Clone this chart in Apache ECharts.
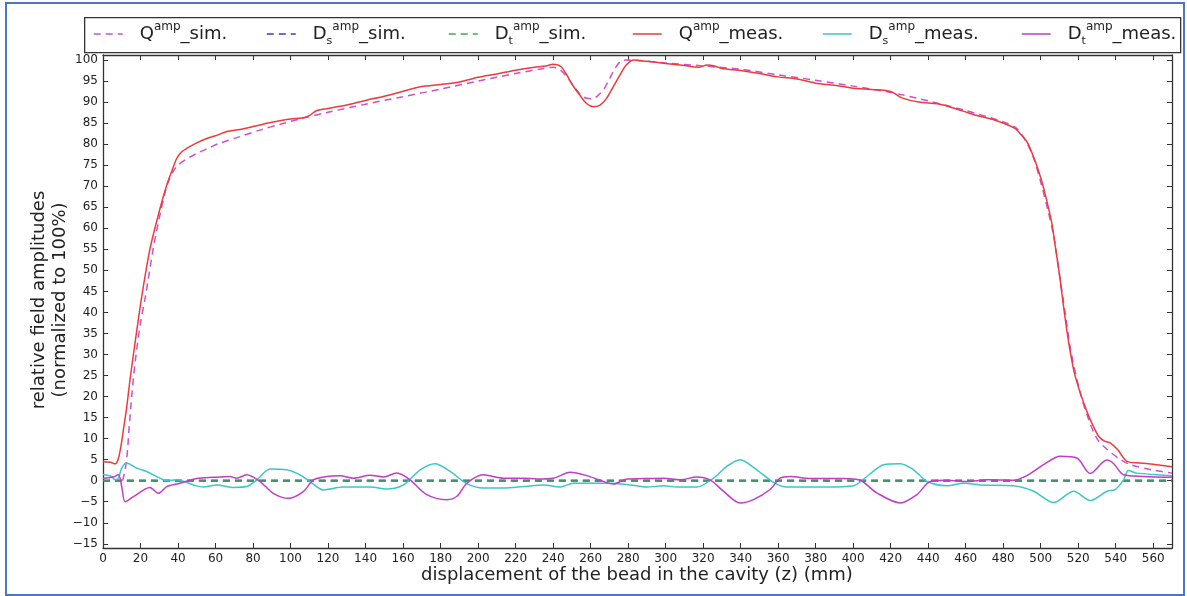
<!DOCTYPE html>
<html>
<head>
<meta charset="utf-8">
<script src="https://cdn.jsdelivr.net/npm/echarts@6/dist/echarts.min.js"></script>
<style>
  html, body { margin: 0; padding: 0; background: #fff; }
  #frame { position: absolute; left: 5px; top: 2px; width: 1176px; height: 590px; border: 2px solid #4a76c6; }
  #chart { position: absolute; left: 0; top: 0; width: 1187px; height: 596px; }
</style>
</head>
<body>
<div id="frame"></div>
<div id="chart"></div>
<script>
// Bead-pull field profiles along the cavity: simulated vs measured amplitudes.
const zTicks = [0, 20, 40, 60, 80, 100, 120, 140, 160, 180, 200, 220, 240, 260, 280,
  300, 320, 340, 360, 380, 400, 420, 440, 460, 480, 500, 520, 540, 560];
const vTicks = [-15, -10, -5, 0, 5, 10, 15, 20, 25, 30, 35, 40, 45, 50, 55, 60, 65,
  70, 75, 80, 85, 90, 95, 100];

// simulated quadrupole amplitude [z (mm), % of max]
const qSim = [[10.5,0],[12.5,4.5],[14,13],[15.5,21],[17.5,29.5],[20,37.5],[22.7,44],
  [26.8,55.2],[30.5,63.5],[34,70],[37,73.2],[40,75],[44,76.3],[50,77.8],[57,79.2],
  [62,80.2],[73,81.8],[84,83.4],[95,84.8],[105,86],[120,87.6],[140,89.5],[160,91.3],
  [180,93.1],[200,95],[220,96.8],[235,98],[240,98.3],[244,97.6],[248,95.6],[252,93.2],
  [255,91.6],[258,90.9],[261,90.8],[264,91.6],[267,93],[270,95.5],[273,98],[276,99.7],
  [279,100],[285,99.9],[300,99.3],[320,98.6],[340,97.8],[360,96.5],[380,95.2],[400,93.8],
  [420,92.3],[440,90.3],[460,88],[480,85.3],[487,83.8],[492,80.8],[496,77],[500,71],
  [504,64],[507,58],[510,49],[513,40],[516,31],[521,21],[526,14],[530,10],
  [535,7.6],[542,5.2],[548,3.8],[559,2.6],[570,1.8]];

// simulated dipole amplitudes (both zero along the cavity)
const dsSim = [[0,0],[570,0]];
const dtSim = [[0,0],[570,0]];

// measured quadrupole amplitude
const qMeas = [[0,4.5],[4,4.4],[6.5,4.0],[8,5],[9.5,8],[11,12.5],[12.5,17],[14.4,24],
  [17,32.5],[20.6,43.6],[25,55],[30.4,64.7],[34,70.3],[37,74],[39.3,76.6],[42,78.2],
  [44.6,79],[50,80.3],[55,81.3],[60,82],[66,83],[73,83.5],[80,84.2],[90,85.2],[100,86],
  [106,86.2],[110,86.8],[114,88],[120,88.5],[130,89.3],[140,90.4],[150,91.4],[160,92.6],
  [170,93.7],[180,94.2],[190,94.8],[200,95.9],[210,96.7],[220,97.6],[230,98.3],[236,98.6],
  [240,99],[244,98.5],[247,96.7],[250,94.3],[254,91.8],[258,89.6],[261.5,88.9],[265,89.3],
  [268.5,90.9],[272,93.6],[275.7,96.5],[279,98.8],[283,100],[290,99.7],[300,99.2],
  [310,98.7],[318,98.3],[322,98.8],[326,98.6],[330,98],[340,97.5],[350,96.8],[360,96],
  [370,95.5],[380,94.5],[390,94],[400,93.3],[410,93],[420,92.5],[426,91],[435,90],
  [445,89.6],[452,88.8],[459,87.8],[466,86.8],[475,85.8],[486,83.8],[490,82],[493,80.3],
  [497,76],[500,72],[503,67],[506,61],[508,55],[510,49],[512,42],[514,35.5],[516,30],
  [518,25.5],[521,21],[525,16],[528,13],[531,10.5],[534,9.4],[537,9.0],[541,7.4],
  [546,4.6],[553,4.2],[560,3.9],[570,3.3]];

// measured dipole amplitude, s-component
const dsMeas = [[0,1.45],[4.6,1.0],[6.4,0.2],[8.2,0.6],[10,3.0],[12.6,4.2],[18,3.0],
  [23.3,2.2],[30.4,0.6],[34,0],[39.3,0.2],[48.2,-1.0],[53.5,-1.5],[60.6,-1.0],[69.5,-1.6],
  [76.6,-1.4],[82,0.2],[89.1,2.8],[98,2.6],[105,1.4],[110.4,-0.2],[117.5,-2.2],[128,-1.5],
  [137,-1.5],[142.4,-1.5],[151.3,-2.0],[160.2,-1.0],[169.1,2.6],[177.1,4.05],[185.1,2.2],
  [194,-0.7],[202.8,-1.75],[213.5,-1.75],[224.2,-1.4],[234.8,-1.0],[243.7,-1.5],
  [250.8,-0.6],[259.7,-0.6],[270.4,-0.6],[281.1,-1.0],[290,-1.5],[298.9,-1.2],[306,-1.5],
  [316.6,-1.5],[325.5,0.6],[332.6,3.4],[339.7,5.0],[348.6,2.6],[357.5,-0.4],[364.6,-1.5],
  [377,-1.5],[386,-1.5],[400.2,-1.2],[407.3,1.0],[416.2,3.8],[425.1,4.05],[432.2,2.6],
  [439.4,-0.2],[450,-1.2],[458.9,-0.6],[467.7,-1.0],[485.5,-1.2],[496.2,-2.5],[506.9,-5.2],
  [517.6,-2.5],[526.4,-4.7],[535.3,-2.5],[539.7,-2.1],[544.2,0.2],[546.8,2.4],[551.3,1.8],
  [570,1.2]];

// measured dipole amplitude, t-component
const dtMeas = [[0,0.6],[5.5,0.9],[8.2,1.45],[10,-1.4],[11.8,-5.0],[16.2,-3.8],[25,-1.6],
  [29.5,-3.0],[34,-1.4],[41,-0.6],[49.9,0.5],[58.8,0.8],[67.7,1.0],[71.2,0.6],[76.6,1.4],
  [83.7,-0.2],[90.8,-3.0],[98.8,-4.2],[106.8,-2.6],[112.2,0.2],[119.3,1.0],[126.4,1.15],
  [133.5,0.6],[142.4,1.3],[149.5,0.9],[156.6,1.8],[163.7,0.2],[172.6,-3.3],[183.3,-4.5],
  [188.7,-3.7],[194,-0.6],[202.8,1.4],[213.5,0.6],[224.2,0.6],[231.3,0.4],[240.2,0.6],
  [249.1,2.0],[258,1.2],[266.9,-0.2],[272.2,-0.8],[279.3,0.4],[288.2,0.5],[298.9,0.6],
  [307.7,0.2],[316.6,0.9],[323.7,0.2],[330.8,-2.5],[339.7,-5.3],[346.8,-4.5],[355.7,-2.1],
  [361,0.6],[366.4,1.0],[377,0.5],[394.8,0.5],[403.7,0.1],[412.6,-2.9],[425.1,-5.3],
  [434,-3.3],[441.1,-0.2],[450,0.1],[460.7,-0.2],[471.3,0.2],[485.5,0.1],[492.6,1.2],
  [501.5,3.8],[510.4,5.8],[519.3,5.4],[526.4,1.7],[535.3,4.9],[538.8,4.1],[544.2,1.4],
  [554.8,1.0],[570,0.8]];

const names = ['Qamp_sim.', 'Dsamp_sim.', 'Dtamp_sim.', 'Qamp_meas.', 'Dsamp_meas.', 'Dtamp_meas.'];
const legendRich = {
  'Qamp_sim.':  '{m|Q}{sup|amp}{m|_sim.}',
  'Dsamp_sim.': '{m|D}{sub|s}{sup|amp}{m|_sim.}',
  'Dtamp_sim.': '{m|D}{sub|t}{sup|amp}{m|_sim.}',
  'Qamp_meas.': '{m|Q}{sup|amp}{m|_meas.}',
  'Dsamp_meas.': '{m|D}{sub|s}{sup|amp}{m|_meas.}',
  'Dtamp_meas.': '{m|D}{sub|t}{sup|amp}{m|_meas.}'
};
const legendX = [93, 266, 448, 632, 822, 1021];

const FONT = 'DejaVu Sans';
const TXT = '#222';

function line(name, data, color, dashed, z, width, opacity) {
  return {
    name: name, type: 'line', data: data, symbol: 'none', z: z,
    smooth: 0.3,
    lineStyle: { color: color, width: width || 1.5, opacity: opacity || 1,
      type: dashed ? [7, 5] : 'solid' },
    itemStyle: { color: color },
    emphasis: { disabled: true }
  };
}

const legends = names.map((n, i) => ({
  data: [n], left: legendX[i], top: 21, itemWidth: 29, itemHeight: 14,
  padding: 0, selectedMode: false,
  itemStyle: { opacity: 0 },
  lineStyle: { width: 1.5, opacity: 1 },
  formatter: (name) => legendRich[name],
  textStyle: {
    fontFamily: FONT, color: TXT, padding: [0, 0, 0, 12],
    rich: {
      m: { fontFamily: FONT, fontSize: 18, color: TXT, lineHeight: 26 },
      sup: { fontFamily: FONT, fontSize: 12, color: TXT, lineHeight: 13, verticalAlign: 'top' },
      sub: { fontFamily: FONT, fontSize: 11, color: TXT, lineHeight: 12, verticalAlign: 'bottom' }
    }
  }
}));

const axisLine = { show: true, onZero: false, lineStyle: { color: '#333', width: 1.3 } };
const tickStyle = { show: true, inside: true, length: 5, lineStyle: { color: '#333', width: 1 } };

const chart = echarts.init(document.getElementById('chart'), null, { renderer: 'canvas' });
chart.setOption({
  animation: false,
  backgroundColor: 'transparent',
  legend: legends,
  grid: { left: 103, right: 15, top: 55, bottom: 48, containLabel: false },
  graphic: [
    { type: 'rect', left: 84, top: 17, shape: { width: 1096, height: 35 },
      style: { fill: '#fff', stroke: '#333', lineWidth: 1.3 }, z: -1 },
    { type: 'text', x: 50, y: 300, rotation: Math.PI / 2,
      style: { text: 'relative field amplitudes\n(normalized to 100%)', font: '18px "DejaVu Sans"',
        fill: TXT, align: 'center', verticalAlign: 'middle', lineHeight: 21 } },
    { type: 'text', x: 637, y: 575,
      style: { text: 'displacement of the bead in the cavity (z) (mm)', font: '18px "DejaVu Sans"',
        fill: TXT, align: 'center', verticalAlign: 'middle' } }
  ],
  xAxis: [
    { type: 'value', min: 0, max: 570, position: 'bottom', splitLine: { show: false },
      axisLine: axisLine, axisTick: Object.assign({ customValues: zTicks }, tickStyle),
      axisLabel: { customValues: zTicks, fontFamily: FONT, fontSize: 12, color: TXT, margin: 5 } },
    { type: 'value', min: 0, max: 570, position: 'top', splitLine: { show: false },
      axisLine: axisLine, axisTick: Object.assign({ customValues: zTicks }, tickStyle),
      axisLabel: { show: false } }
  ],
  yAxis: [
    { type: 'value', min: -16, max: 101.2, position: 'left', splitLine: { show: false },
      axisLine: axisLine, axisTick: Object.assign({ customValues: vTicks }, tickStyle),
      axisLabel: { customValues: vTicks, fontFamily: FONT, fontSize: 12, color: TXT, margin: 5,
        formatter: (v) => v < 0 ? '\u2212' + Math.abs(v) : String(v) } },
    { type: 'value', min: -16, max: 101.2, position: 'right', splitLine: { show: false },
      axisLine: axisLine, axisTick: Object.assign({ customValues: vTicks }, tickStyle),
      axisLabel: { show: false } }
  ],
  series: [
    line('Qamp_sim.', qSim, '#cc4fd6', true, 2),
    line('Dsamp_sim.', dsSim, '#3a3ad0', true, 2, 2.2),
    line('Dtamp_sim.', dtSim, '#4aa05a', true, 3, 1.5, 0.85),
    line('Qamp_meas.', qMeas, '#ee3a3a', false, 4),
    line('Dsamp_meas.', dsMeas, '#3cc6c6', false, 4),
    line('Dtamp_meas.', dtMeas, '#c23cc8', false, 5)
  ]
});
</script>
</body>
</html>
